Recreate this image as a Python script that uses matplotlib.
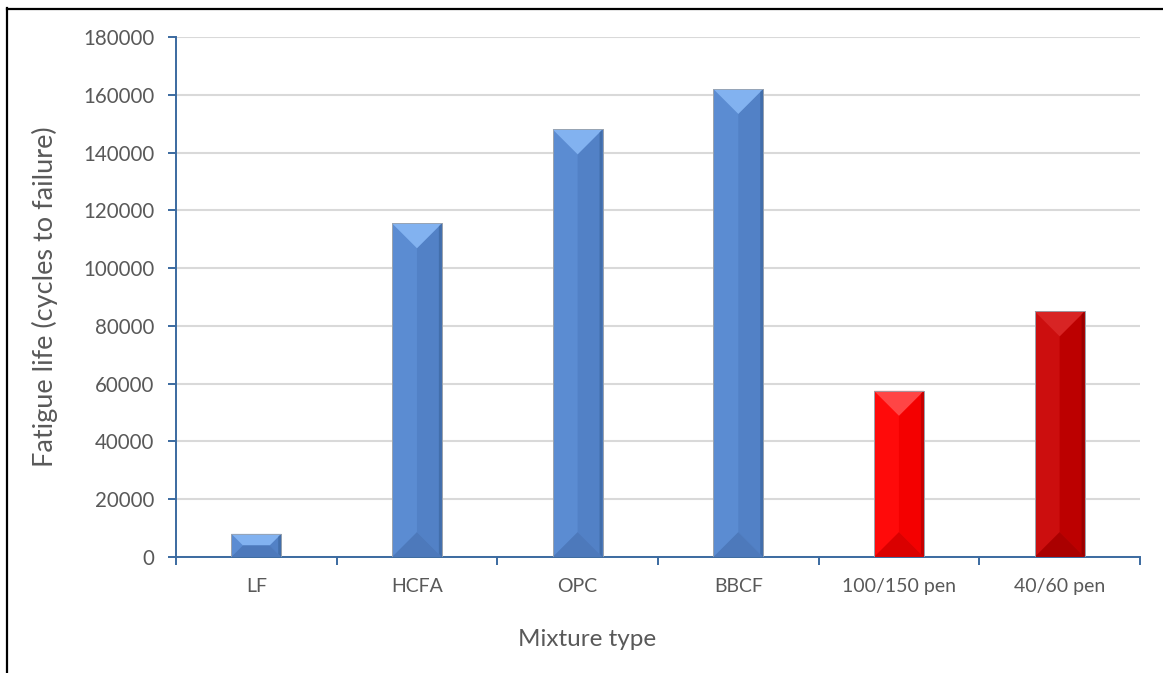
import matplotlib.pyplot as plt
from matplotlib.patches import Polygon
from matplotlib.lines import Line2D

plt.rcParams["font.family"] = ["Lato", "DejaVu Sans"]

# fatigue test results per mixture
mixtures = ["LF", "HCFA", "OPC", "BBCF", "100/150 pen", "40/60 pen"]
cycles = [8000, 115500, 148000, 162000, 57500, 85000]

# face colours of the bevelled bars: left, right, top, bottom, rim
blue = ("#5B8CD2", "#5281C6", "#82B2F0", "#4D79BB", "#3F6AA5")
bright_red = ("#FF0A0A", "#F40000", "#FF4545", "#DA0000", "#B80000")
dark_red = ("#CC0E0E", "#BC0000", "#D82424", "#AA0000", "#900000")
bar_styles = [blue, blue, blue, blue, bright_red, dark_red]

text_col = "#595959"
axis_col = "#3B6AA0"

fig = plt.figure(figsize=(11.63, 6.73), dpi=100)
ax = fig.add_axes([0.1513, 0.1724, 0.8289, 0.7726])

x = list(range(len(mixtures)))
bars = ax.bar(x, cycles, width=0.31, color=[s[0] for s in bar_styles],
              edgecolor="#9AA3AE", linewidth=0.6, zorder=2)

ax.set_xlim(-0.5, len(mixtures) - 0.5)
ax.set_ylim(0, 180000)
ax.set_yticks(range(0, 180001, 20000))
ax.set_xticks(x)
ax.set_xticklabels(mixtures)
ax.set_xticks([i - 0.5 for i in range(len(mixtures) + 1)], minor=True)

ax.yaxis.grid(True, color="#D9D9D9", linewidth=1.5, zorder=0)
ax.set_axisbelow(True)
for side in ["top", "right"]:
    ax.spines[side].set_visible(False)
for side in ["left", "bottom"]:
    ax.spines[side].set_color(axis_col)
    ax.spines[side].set_linewidth(1.4)

ax.tick_params(axis="y", direction="out", length=5.5, width=1.4, color=axis_col,
               labelsize=14.8, labelcolor=text_col, pad=10)
ax.tick_params(axis="x", which="major", length=0, labelsize=14, labelcolor=text_col, pad=15)
ax.tick_params(axis="x", which="minor", direction="out", length=5.5, width=1.4, color=axis_col)

ax.set_ylabel("Fatigue life (cycles to failure)", fontsize=19.5, color=text_col, labelpad=18)
ax.set_xlabel("Mixture type", fontsize=17.5, color=text_col)
ax.xaxis.set_label_coords(0.426, -0.138)

# bevel facets, built in pixel space so the diagonals stay at 45 degrees
to_px = ax.transData
to_data = ax.transData.inverted()
for bar, style in zip(bars, bar_styles):
    (x0, y0), (x1, y1) = to_px.transform([(bar.get_x(), 0),
                                          (bar.get_x() + bar.get_width(), bar.get_height())])
    d = min((x1 - x0) / 2, (y1 - y0) / 2)
    facets = [
        (style[1], [(x1, y0), (x1 - d, y0 + d), (x1 - d, y1 - d), (x1, y1)]),
        (style[2], [(x0, y1), (x1, y1), (x1 - d, y1 - d), (x0 + d, y1 - d)]),
        (style[3], [(x0, y0), (x1, y0), (x1 - d, y0 + d), (x0 + d, y0 + d)]),
    ]
    for col, pts in facets:
        ax.add_patch(Polygon(to_data.transform(pts), closed=True, facecolor=col,
                             edgecolor="none", zorder=3))
    # darker rim along the right edge
    rim = [(x1 - 3, y0 + 3), (x1, y0), (x1, y1), (x1 - 3, y1 - 3)]
    ax.add_patch(Polygon(to_data.transform(rim), closed=True, facecolor=style[4],
                         edgecolor="none", alpha=0.8, zorder=3))
    ax.add_patch(Polygon(to_data.transform([(x0, y0), (x1, y0), (x1, y1), (x0, y1)]),
                         closed=True, fill=False, edgecolor="#9AA3AE", linewidth=0.6, zorder=4))

# frame around the chart (left and top edges only)
W, H = 1163, 673
fig.add_artist(Line2D([6.5 / W, 6.5 / W], [0, 1 - 8 / H], color="black", linewidth=1.6,
                      transform=fig.transFigure))
fig.add_artist(Line2D([6.5 / W, 1], [1 - 8.5 / H, 1 - 8.5 / H], color="black", linewidth=1.6,
                      transform=fig.transFigure))

fig.savefig("out.png", dpi=100)
